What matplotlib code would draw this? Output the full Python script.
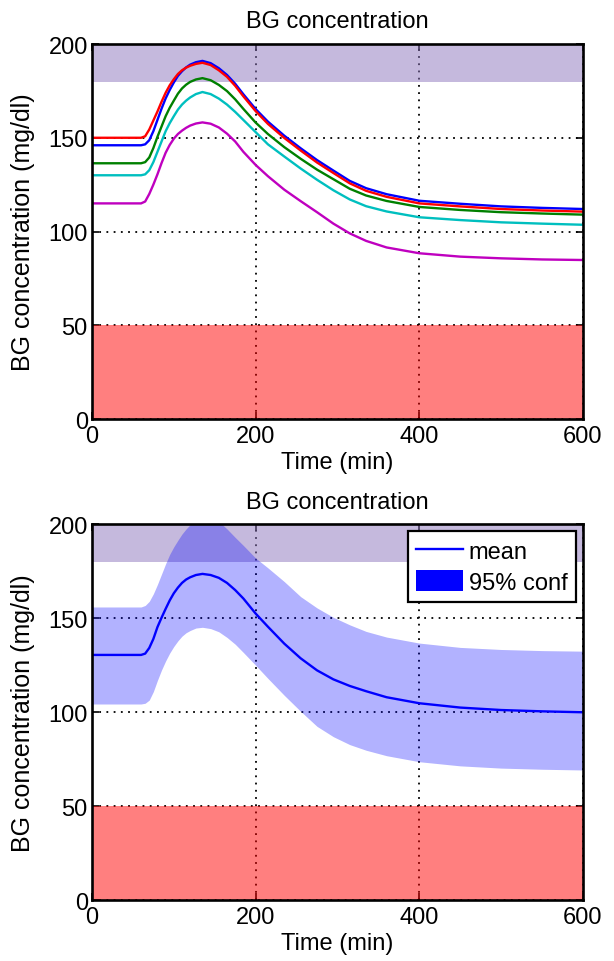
import matplotlib
matplotlib.use("Agg")
import matplotlib.pyplot as plt
from matplotlib.patches import Patch
from matplotlib.lines import Line2D

plt.rcParams['font.family'] = ['Liberation Sans', 'DejaVu Sans']

# ---------------- data ----------------
t_top = [0, 60, 65, 70, 75, 80, 85, 90, 95, 100, 105, 110, 115, 120, 127, 135,
         145, 155, 165, 175, 185, 200, 215, 235, 255, 275, 295, 315, 335, 360, 400, 450, 500, 550, 600]
bg_blue = [146, 146, 146.5, 148.7, 153.5, 159.5, 165.5, 171, 175.5, 179.5, 183, 185.5, 187.5, 189, 190.3, 191,
           189.8, 187.1, 183.5, 178.8, 173.2, 165.3, 158.6, 151.1, 144.4, 138.1, 132.5, 127.0, 123.1, 119.9, 116.4, 114.8, 113.4, 112.6, 112.0]
bg_green = [136.4, 136.4, 137, 139.5, 144.5, 150.5, 156, 161.5, 166, 169.8, 173.5, 176.3, 178.3, 179.8, 181.1, 181.8,
            180.7, 178.2, 174.9, 170.5, 165.4, 158.1, 152.0, 145.0, 138.8, 133.0, 127.9, 122.8, 119.2, 116.3, 113.1, 111.5, 110.3, 109.6, 109.0]
bg_red = [150, 150, 150.8, 154.4, 159.2, 164, 169.2, 174, 178, 181.2, 184, 186, 187.4, 188.4, 189.4, 190,
          188.8, 186.0, 182.5, 177.7, 172.1, 164.2, 157.4, 149.9, 143.2, 136.8, 131.2, 125.7, 121.7, 118.5, 115.0, 113.4, 112.0, 111.2, 110.6]
bg_cyan = [130, 130, 130.5, 132.7, 137, 142.5, 148, 153.5, 157.8, 161.5, 165, 167.7, 169.8, 171.5, 173.3, 174.4,
           173.3, 170.9, 167.7, 163.8, 159.5, 153.0, 146.5, 140.0, 133.6, 127.6, 122.0, 117.1, 113.5, 110.7, 107.6, 106.1, 104.9, 104.2, 103.6]
bg_magenta = [115, 115, 116, 120, 125, 130.5, 136.5, 142, 146.2, 149.5, 152, 153.8, 155.3, 156.5, 157.6, 158.2,
              157.5, 155.5, 152.2, 148, 142.5, 135.5, 129.5, 122.3, 116.2, 110.3, 104.2, 99.0, 95.0, 91.5, 88.4, 86.6, 85.7, 85.1, 84.8]

t_bot = [0, 60, 65, 70, 75, 80, 85, 90, 95, 100, 105, 110, 115, 120, 127, 135,
         145, 155, 165, 175, 185, 200, 215, 235, 255, 275, 295, 315, 335, 360, 400, 450, 500, 550, 600]
bg_mean = [130.5, 130.5, 131.2, 134.2, 139, 145.3, 150.3, 155, 159.5, 163.3, 166.3, 168.8, 170.6, 171.8, 173, 173.6,
           173.0, 171.5, 168.8, 165, 160.5, 152.5, 145.5, 136.5, 128.7, 122.3, 117.5, 114, 111.2, 108, 104.8, 102.5, 101.2, 100.5, 100]
bg_upper = [156, 156, 156.8, 159, 163, 168, 173.5, 179, 184, 188, 191.5, 194.8, 197.5, 199.8, 202.5, 204.5,
            204.2, 201.5, 197.5, 193, 188.7, 182, 176.8, 169.5, 161.5, 155.5, 150.5, 146.5, 143, 140, 136.8, 134.5, 133.4, 132.8, 132.5]
bg_lower = [104.4, 104.4, 104.8, 106.5, 111, 117, 122.5, 127.3, 131.5, 135, 138, 140.5, 142.3, 143.5, 144.8, 145.2,
            144.5, 142.8, 139.8, 136.2, 131.8, 125, 118, 109, 100.5, 92.5, 87, 82.8, 79.8, 76.9, 73.7, 71.5, 70.3, 69.7, 69.3]

hyper_zone = (180, 200)
hypo_zone = (0, 50)
x_ticks = [0, 200, 400, 600]
y_ticks = [0, 50, 100, 150, 200]

FS = 17
fig = plt.figure(figsize=(6.14, 9.62), dpi=100)
ax1 = fig.add_axes([0.1498, 0.5634, 0.7997, 0.3898])
ax2 = fig.add_axes([0.1498, 0.0631, 0.7997, 0.3909])


def style(ax):
    ax.set_xlim(0, 600)
    ax.set_ylim(0, 200)
    ax.set_xticks(x_ticks)
    ax.set_yticks(y_ticks)
    ax.set_axisbelow(True)
    ax.grid(True, color='black', linestyle=(0, (1, 3)), linewidth=1.3)
    ax.tick_params(direction='in', top=True, right=True, labelsize=FS, length=5, width=1.2)
    ax.tick_params(axis='x', pad=4)
    ax.tick_params(axis='y', pad=3)
    for s in ax.spines.values():
        s.set_linewidth(1.9)
        s.set_zorder(5)
    ax.axhspan(hyper_zone[0], hyper_zone[1], color=(0.55, 0.46, 0.74), alpha=0.5, lw=0, zorder=1)
    ax.axhspan(hypo_zone[0], hypo_zone[1], color=(1.0, 0.0, 0.0), alpha=0.5, lw=0, zorder=1)
    ax.set_title('BG concentration', fontsize=FS, pad=12)
    ax.set_xlabel('Time (min)', fontsize=FS, labelpad=3)
    ax.set_ylabel('BG concentration (mg/dl)', fontsize=18, labelpad=10)


style(ax1)
lw = 1.7
ax1.plot(t_top, bg_blue, color=(0, 0, 1), lw=lw, zorder=3)
ax1.plot(t_top, bg_green, color=(0, 0.5, 0), lw=lw, zorder=3)
ax1.plot(t_top, bg_red, color=(1, 0, 0), lw=lw, zorder=3)
ax1.plot(t_top, bg_cyan, color=(0, 0.75, 0.75), lw=lw, zorder=3)
ax1.plot(t_top, bg_magenta, color=(0.75, 0, 0.75), lw=lw, zorder=3)

style(ax2)
ax2.fill_between(t_bot, bg_lower, bg_upper, color=(0, 0, 1), alpha=0.3, lw=0, zorder=2)
ax2.plot(t_bot, bg_mean, color=(0, 0, 1), lw=lw, zorder=3)

handles = [Line2D([], [], color=(0, 0, 1), lw=1.7),
           Patch(facecolor=(0, 0, 1), edgecolor='none')]
leg = ax2.legend(handles, ['mean', '95% conf'], loc='upper right', fontsize=FS,
                 fancybox=False, framealpha=1, edgecolor='black',
                 borderaxespad=0.3, handlelength=2.0, handleheight=1.0, handletextpad=0.25,
                 borderpad=0.35, labelspacing=0.3)
leg.get_frame().set_linewidth(1.6)
leg.set_zorder(6)

fig.savefig('out.png', dpi=100)
